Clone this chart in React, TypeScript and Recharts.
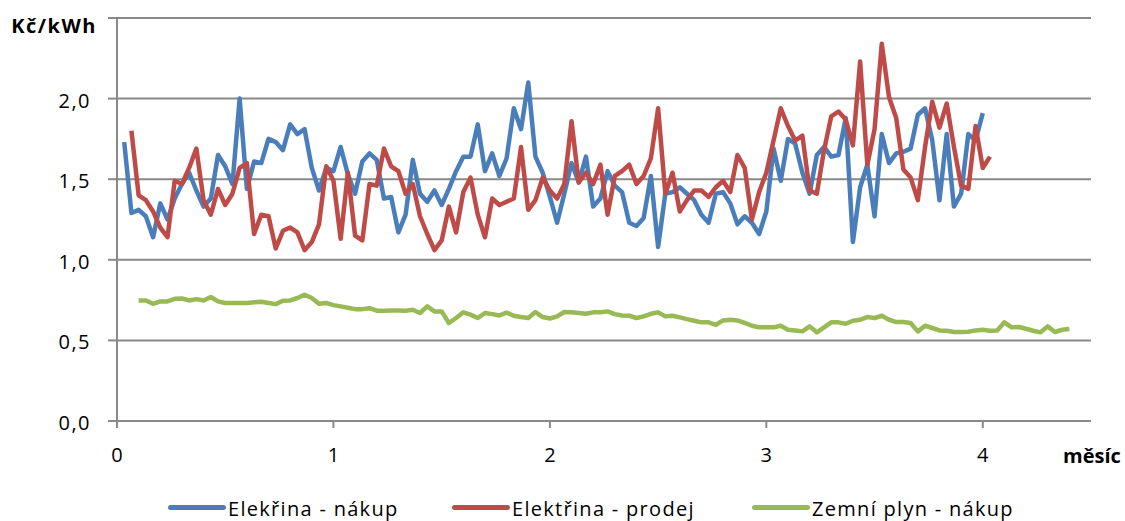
import React from 'react';
import { LineChart, Line, XAxis, YAxis, CartesianGrid, Legend, Label } from 'recharts';

// One sample per day, x axis is in months (30 days each)
const DAYS_PER_MONTH = 30;
const blueStartDay = 1;
const redStartDay = 2;
const greenStartDay = 3;

const seriesNames = ['Elekřina - nákup', 'Elektřina - prodej', 'Zemní plyn - nákup'];

const elektrinaNakup = [
  1.73, 1.29, 1.31, 1.27, 1.14, 1.35, 1.25, 1.38, 1.47, 1.54,
  1.43, 1.33, 1.38, 1.65, 1.58, 1.47, 2.0, 1.44, 1.61, 1.6,
  1.75, 1.73, 1.68, 1.84, 1.78, 1.81, 1.57, 1.43, 1.57, 1.55,
  1.7, 1.53, 1.41, 1.61, 1.66, 1.62, 1.38, 1.39, 1.17, 1.28,
  1.62, 1.41, 1.36, 1.43, 1.34, 1.44, 1.55, 1.64, 1.64, 1.84,
  1.55, 1.66, 1.52, 1.63, 1.94, 1.81, 2.1, 1.64, 1.54, 1.39,
  1.23, 1.41, 1.6, 1.48, 1.64, 1.33, 1.38, 1.55, 1.46, 1.42,
  1.23, 1.21, 1.26, 1.52, 1.08, 1.41, 1.42, 1.45, 1.41, 1.37,
  1.28, 1.23, 1.41, 1.42, 1.35, 1.22, 1.27, 1.23, 1.16, 1.3,
  1.69, 1.49, 1.75, 1.72, 1.54, 1.41, 1.65, 1.7, 1.64, 1.65,
  1.88, 1.11, 1.45, 1.59, 1.27, 1.78, 1.6, 1.66, 1.67, 1.69,
  1.9, 1.94, 1.74, 1.37, 1.78, 1.33, 1.41, 1.78, 1.74, 1.91,
];

const elektrinaProdej = [
  1.8, 1.4, 1.37, 1.3, 1.2, 1.14, 1.49, 1.47, 1.57, 1.69,
  1.37, 1.28, 1.44, 1.34, 1.41, 1.57, 1.6, 1.16, 1.28, 1.27,
  1.07, 1.18, 1.2, 1.17, 1.06, 1.11, 1.22, 1.58, 1.49, 1.13,
  1.54, 1.15, 1.12, 1.47, 1.46, 1.69, 1.58, 1.55, 1.41, 1.47,
  1.27, 1.16, 1.06, 1.12, 1.33, 1.17, 1.42, 1.51, 1.28, 1.14,
  1.38, 1.34, 1.36, 1.38, 1.7, 1.31, 1.37, 1.51, 1.43, 1.38,
  1.47, 1.86, 1.48, 1.54, 1.47, 1.59, 1.28, 1.52, 1.55, 1.59,
  1.47, 1.52, 1.63, 1.94, 1.41, 1.54, 1.3, 1.37, 1.43, 1.43,
  1.39, 1.45, 1.49, 1.42, 1.65, 1.57, 1.25, 1.42, 1.54, 1.74,
  1.94, 1.83, 1.74, 1.77, 1.43, 1.41, 1.68, 1.89, 1.92, 1.87,
  1.71, 2.23, 1.59, 1.81, 2.34, 2.01, 1.88, 1.56, 1.51, 1.37,
  1.7, 1.98, 1.82, 1.97, 1.7, 1.46, 1.44, 1.83, 1.57, 1.64,
];

const zemniPlynNakup = [
  0.748, 0.748, 0.727, 0.742, 0.742, 0.758, 0.76, 0.748, 0.756, 0.748,
  0.769, 0.742, 0.732, 0.732, 0.732, 0.732, 0.736, 0.74, 0.732, 0.725,
  0.746, 0.748, 0.763, 0.783, 0.763, 0.727, 0.732, 0.719, 0.711, 0.703,
  0.694, 0.694, 0.7, 0.684, 0.684, 0.686, 0.686, 0.684, 0.69, 0.67,
  0.711, 0.68, 0.68, 0.608, 0.639, 0.674, 0.66, 0.639, 0.67, 0.663,
  0.655, 0.672, 0.653, 0.645, 0.639, 0.676, 0.645, 0.636, 0.649, 0.676,
  0.674, 0.67, 0.665, 0.674, 0.674, 0.68, 0.663, 0.655, 0.653, 0.639,
  0.649, 0.665, 0.674, 0.649, 0.653, 0.643, 0.632, 0.622, 0.612, 0.612,
  0.597, 0.624, 0.628, 0.624, 0.608, 0.591, 0.581, 0.581, 0.581, 0.591,
  0.566, 0.562, 0.556, 0.587, 0.55, 0.581, 0.612, 0.612, 0.603, 0.622,
  0.628, 0.645, 0.639, 0.653, 0.628, 0.614, 0.614, 0.608, 0.556, 0.591,
  0.577, 0.562, 0.56, 0.552, 0.552, 0.554, 0.562, 0.566, 0.56, 0.562,
  0.612, 0.581, 0.583, 0.572, 0.56, 0.55, 0.587, 0.552, 0.566, 0.57,
];

const xTicks = [0, 1, 2, 3, 4];
const yTicks = [0, 0.5, 1, 1.5, 2, 2.5];
const yUnitLabel = 'Kč/kWh';
const xUnitLabel = 'měsíc';

const toPoints = (values: number[], startDay: number) =>
  values.map((v, i) => ({ month: (startDay + i) / DAYS_PER_MONTH, value: v }));

const blueData = toPoints(elektrinaNakup, blueStartDay);
const redData = toPoints(elektrinaProdej, redStartDay);
const greenData = toPoints(zemniPlynNakup, greenStartDay);

const FONT = "'Open Sans', sans-serif";
const GRID = '#898989';

const YTick = (props: any) => {
  const { x, y, payload } = props;
  if (payload.value === 2.5) {
    return (
      <text x={x + 6} y={y + 15} textAnchor="end" fontFamily={FONT} fontWeight="bold" fontSize={20} letterSpacing={1.5} fill="#000">
        {yUnitLabel}
      </text>
    );
  }
  return (
    <text x={x} y={y + 9} textAnchor="end" fontFamily={FONT} fontSize={20} letterSpacing={1.5} fill="#000">
      {Number(payload.value).toFixed(1).replace('.', ',')}
    </text>
  );
};

const MonthLabel = (props: any) => {
  const vb = props.viewBox || { x: 117, y: 421, width: 974 };
  return (
    <text x={vb.x + vb.width + 1} y={vb.y + 42} textAnchor="middle" fontFamily={FONT} fontWeight="bold" fontSize={20} fill="#000">
      {xUnitLabel}
    </text>
  );
};

const legendLeft = [168, 452, 752];

const renderLegend = (props: any) => {
  const payload = props.payload || [];
  const ordered = seriesNames
    .map((name) => payload.find((p: any) => p.value === name))
    .filter(Boolean);
  return (
    <div style={{ position: 'relative', width: '100%', height: 40 }}>
      {ordered.map((entry: any, i: number) => (
        <div
          key={entry.value}
          style={{ position: 'absolute', left: legendLeft[i], top: 14, display: 'flex', alignItems: 'center', whiteSpace: 'nowrap' }}
        >
          <span style={{ display: 'inline-block', width: 58, height: 5, borderRadius: 3, background: entry.color, marginRight: 2, position: 'relative', top: -1 }} />
          <span style={{ fontFamily: FONT, fontSize: 20, letterSpacing: 1.3, color: '#000', lineHeight: 'normal' }}>{entry.value}</span>
        </div>
      ))}
    </div>
  );
};

export default function App() {
  return (
    <div style={{ position: 'fixed', left: 0, top: 0, width: 1125, height: 521, background: '#fff', overflow: 'hidden' }}>
      <LineChart width={1125} height={521} margin={{ top: 18, right: 34, bottom: 0, left: 0 }}>
        <CartesianGrid horizontal vertical={false} stroke={GRID} strokeWidth={2} />
        <XAxis
          type="number"
          dataKey="month"
          domain={[0, 4.5]}
          ticks={xTicks}
          interval={0}
          allowDataOverflow
          height={60}
          tickSize={7}
          tickMargin={20}
          axisLine={{ stroke: GRID, strokeWidth: 2 }}
          tickLine={{ stroke: GRID, strokeWidth: 2 }}
          tick={{ fill: '#000', fontSize: 20, fontFamily: FONT }}
        >
          <Label content={MonthLabel} />
        </XAxis>
        <YAxis
          type="number"
          domain={[0, 2.5]}
          ticks={yTicks}
          interval={0}
          width={117}
          tickSize={9}
          tickMargin={17}
          axisLine={{ stroke: GRID, strokeWidth: 2 }}
          tickLine={{ stroke: GRID, strokeWidth: 2 }}
          tick={<YTick />}
        />
        <Legend verticalAlign="bottom" content={renderLegend} wrapperStyle={{ left: 0, width: 1125 }} />
        <Line data={blueData} dataKey="value" name={seriesNames[0]} stroke="#4A7EBB" strokeWidth={4.5} dot={false} strokeLinejoin="round" isAnimationActive={false} />
        <Line data={redData} dataKey="value" name={seriesNames[1]} stroke="#BE4B48" strokeWidth={4.5} dot={false} strokeLinejoin="round" isAnimationActive={false} />
        <Line data={greenData} dataKey="value" name={seriesNames[2]} stroke="#98B954" strokeWidth={4.5} dot={false} strokeLinejoin="round" isAnimationActive={false} />
      </LineChart>
    </div>
  );
}
